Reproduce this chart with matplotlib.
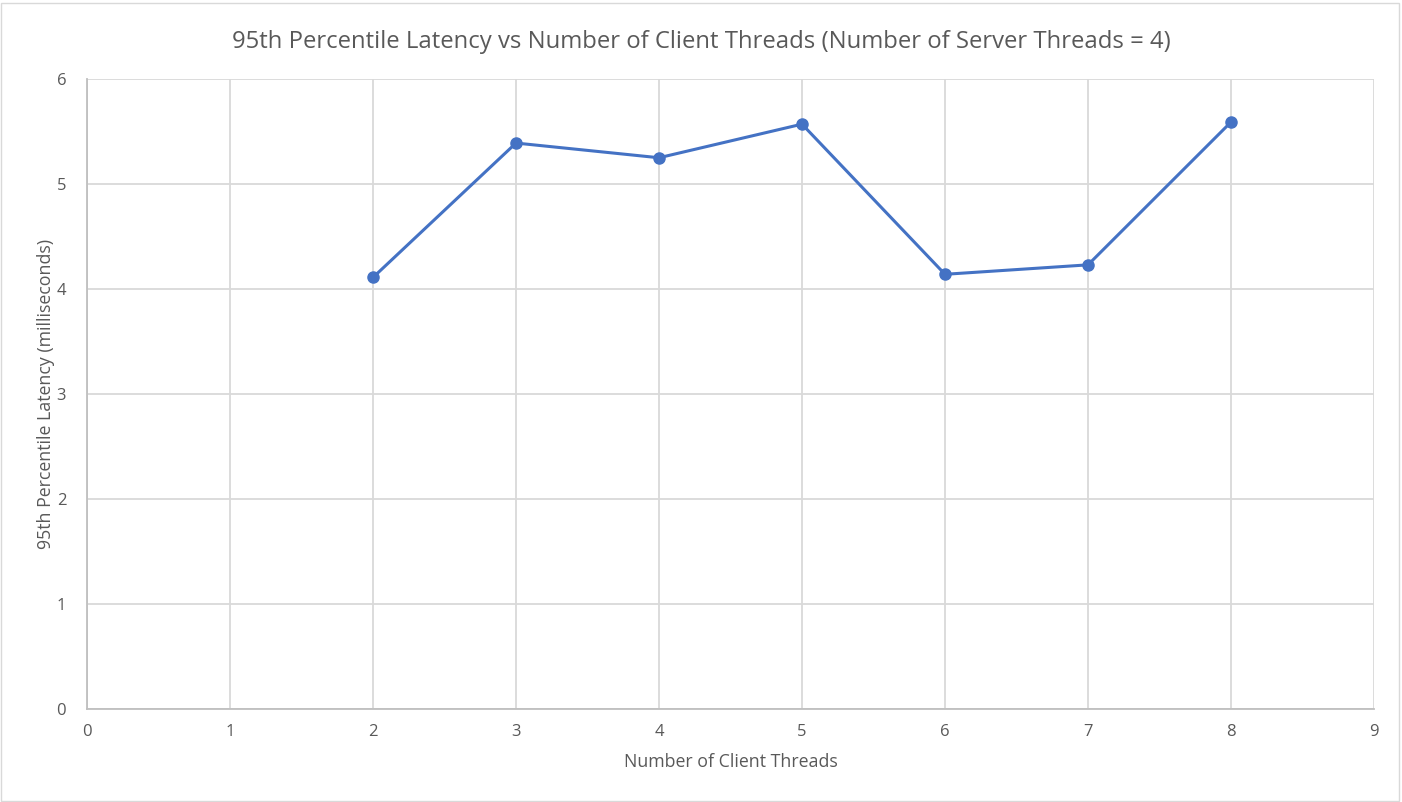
import matplotlib
matplotlib.use('Agg')
import matplotlib.pyplot as plt
from matplotlib.patches import Rectangle

# Данные
client_threads = [2, 3, 4, 5, 6, 7, 8]
latency_p95 = [4.11, 5.39, 5.25, 5.57, 4.14, 4.23, 5.59]

plt.rcParams['font.family'] = ['Open Sans', 'DejaVu Sans']

fig = plt.figure(figsize=(14.02, 8.02), dpi=100)
ax = fig.add_axes([87 / 1402, 1 - 709 / 802, (1374 - 87) / 1402, (709 - 79) / 802])

# рамка вокруг всего графика
fig.patches.append(Rectangle((1 / 1402, 1 / 802), 1398 / 1402, 798 / 802, transform=fig.transFigure,
                             fill=False, edgecolor='#d9d9d9', linewidth=1))

ax.plot(client_threads, latency_p95, color='#4472c4', linewidth=2.2, marker='o', markersize=8, zorder=3)

ax.set_xlim(0, 9)
ax.set_ylim(0, 6)
ax.set_xticks(range(0, 10))
ax.set_yticks(range(0, 7))
ax.grid(True, color='#d9d9d9', linewidth=1.3)
ax.set_axisbelow(True)
for side in ['top', 'right']:
    ax.spines[side].set_visible(False)
for side in ['left', 'bottom']:
    ax.spines[side].set_color('#bfbfbf')
    ax.spines[side].set_linewidth(1.3)
ax.tick_params(length=0, labelsize=12, colors='#595959', pad=11)
ax.tick_params(axis='y', pad=15)

ax.set_xlabel('Number of Client Threads', fontsize=12.8, color='#595959', labelpad=9)
ax.set_ylabel('95th Percentile Latency (milliseconds)', fontsize=12.8, color='#595959', labelpad=1)
fig.text(0.5, 1 - 42 / 802, '95th Percentile Latency vs Number of Client Threads (Number of Server Threads = 4)',
         ha='center', va='center', fontsize=17.2, color='#595959')

fig.savefig('out.png', dpi=100)
